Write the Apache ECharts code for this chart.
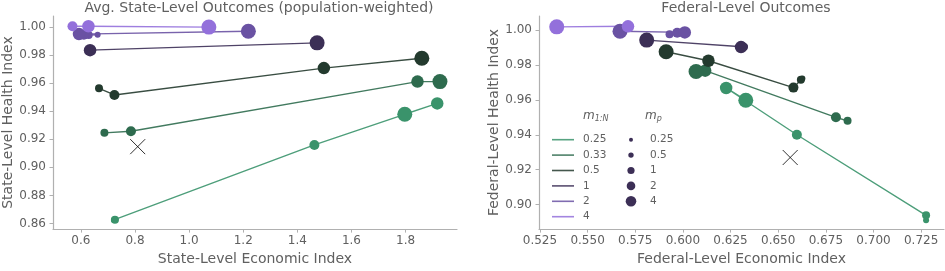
<!DOCTYPE html>
<html><head><meta charset="utf-8">
<script src="https://cdn.jsdelivr.net/npm/echarts@6/dist/echarts.min.js"></script>
<style>html,body{margin:0;padding:0;background:#fff}#c{width:945px;height:271px}</style>
</head><body><div id="c"></div>
<script>
// ---- data ----
const m1NLabels = ['0.25', '0.33', '0.5', '1', '2', '4'];
const mpValues = [0.25, 0.5, 1, 2, 4];
// State-level (left panel), rows = m_1:N, columns = m_p order [0.25,0.5,1,2,4]
const stateEcon = [
  [0.722, 0.726, 1.463, 1.917, 1.797],
  [0.687, 0.687, 0.785, 1.844, 1.927],
  [0.667, 0.667, 0.724, 1.498, 1.860],
  [0.634, 0.634, 0.634, 0.634, 1.473],
  [0.662, 0.629, 0.611, 0.593, 1.219],
  [0.569, 0.569, 0.569, 0.628, 1.073]
];
const stateHealth = [
  [0.8625, 0.8627, 0.9159, 0.9455, 0.9378],
  [0.9245, 0.9245, 0.9257, 0.9610, 0.9610],
  [0.9562, 0.9562, 0.9515, 0.9706, 0.9776],
  [0.9834, 0.9834, 0.9834, 0.9834, 0.9886],
  [0.9943, 0.9942, 0.9944, 0.9948, 0.9968],
  [1.0004, 1.0004, 1.0004, 1.0004, 0.9998]
];
// Federal-level (right panel)
const fedEcon = [
  [0.7276, 0.7276, 0.6598, 0.6227, 0.6330],
  [0.6866, 0.6864, 0.6803, 0.6117, 0.6069],
  [0.6627, 0.6619, 0.6580, 0.6134, 0.5912],
  [0.6325, 0.6320, 0.6310, 0.6305, 0.5810],
  [0.5930, 0.5930, 0.5970, 0.6010, 0.5670],
  [0.5712, 0.5712, 0.5712, 0.5712, 0.5338]
];
const fedHealth = [
  [0.8911, 0.8939, 0.9400, 0.9668, 0.9598],
  [0.9479, 0.9481, 0.9500, 0.9767, 0.9762],
  [0.9722, 0.9715, 0.9670, 0.9824, 0.9875],
  [0.9906, 0.9902, 0.9904, 0.9902, 0.9942],
  [0.9975, 0.9975, 0.9984, 0.9986, 0.9993],
  [1.0021, 1.0021, 1.0021, 1.0021, 1.0018]
];
const stateBaseline = [0.810, 0.9147];
const fedBaseline = [0.6563, 0.9270];
const stateXTicks = [0.6, 0.8, 1.0, 1.2, 1.4, 1.6, 1.8];
const stateYTicks = [0.86, 0.88, 0.90, 0.92, 0.94, 0.96, 0.98, 1.00];
const fedXTicks = [0.525, 0.55, 0.575, 0.6, 0.625, 0.65, 0.675, 0.7, 0.725];
const fedYTicks = [0.90, 0.92, 0.94, 0.96, 0.98, 1.00];

// ---- style ----
const colors = ['#3a936b', '#2e6b4e', '#233a2e', '#3c2f56', '#6a52a3', '#9370db'];
const sizeMap = {0.25: 6, 0.5: 8, 1: 10, 2: 12.5, 4: 15};
const FONT = 'DejaVu Sans';
const TXT = '#606060';
const AX = '#b0b0b0';

function axisX(grid, min, max, ticks, dec, name) {
  return {
    type: 'value', gridIndex: grid, min: min, max: max,
    name: name, nameLocation: 'middle', nameGap: 21,
    nameTextStyle: {fontFamily: FONT, fontSize: 14, color: TXT},
    axisLine: {show: true, lineStyle: {color: AX, width: 1.2}},
    axisTick: {show: true, length: 3.5, lineStyle: {color: AX}, customValues: ticks},
    axisLabel: {customValues: ticks, fontFamily: FONT, fontSize: 12, color: TXT, margin: 6,
      formatter: v => v.toFixed(dec)},
    splitLine: {show: false}
  };
}
function axisY(grid, min, max, ticks, name, gap) {
  return {
    type: 'value', gridIndex: grid, min: min, max: max,
    name: name, nameLocation: 'middle', nameGap: gap, nameRotate: 90,
    nameTextStyle: {fontFamily: FONT, fontSize: 14, color: TXT},
    axisLine: {show: true, lineStyle: {color: AX, width: 1.2}},
    axisTick: {show: true, length: 3.5, lineStyle: {color: AX}, customValues: ticks},
    axisLabel: {customValues: ticks, fontFamily: FONT, fontSize: 12, color: TXT, margin: 7,
      formatter: v => v.toFixed(2)},
    splitLine: {show: false}
  };
}

const series = [];
function addPanel(econ, health, base, gi) {
  econ.forEach((row, i) => {
    const data = row.map((x, j) => [x, health[i][j], mpValues[j]]);
    series.push({
      type: 'line', name: m1NLabels[i], xAxisIndex: gi, yAxisIndex: gi,
      data: data, symbol: 'circle', showSymbol: true,
      symbolSize: v => sizeMap[v[2]],
      itemStyle: {color: colors[i], opacity: 1},
      lineStyle: {color: colors[i], width: 1.4, opacity: 0.9},
      emphasis: {disabled: true}, animation: false, silent: true
    });
  });
  series.push({
    type: 'scatter', xAxisIndex: gi, yAxisIndex: gi, data: [base],
    symbol: 'path://M0,0L10,10M10,0L0,10', symbolSize: 15,
    itemStyle: {color: 'none', borderColor: '#000', borderWidth: 1},
    animation: false, silent: true, z: 5
  });
}
addPanel(stateEcon, stateHealth, stateBaseline, 0);
addPanel(fedEcon, fedHealth, fedBaseline, 1);

// legend as graphics
const graphics = [];
const legX = 552, legY0 = 139.7, legDy = 15.4;
const hdrRich = {a: {fontFamily: FONT, fontStyle: 'italic', fontSize: 12, fill: TXT},
  b: {fontFamily: FONT, fontStyle: 'italic', fontSize: 8, fill: TXT, padding: [6, 0, 0, 0]}};
graphics.push({type: 'text', left: 583, top: 110, style: {text: '{a|m}{b|1:N}', rich: hdrRich}});
graphics.push({type: 'text', left: 645, top: 110, style: {text: '{a|m}{b|p}', rich: hdrRich}});
m1NLabels.forEach((lab, i) => {
  const y = legY0 + i * legDy;
  graphics.push({type: 'line', shape: {x1: legX, y1: y, x2: legX + 22, y2: y},
    style: {stroke: colors[i], lineWidth: 1.6, opacity: 0.85}});
  graphics.push({type: 'text', x: 583, y: y, style: {text: lab, fontFamily: FONT, fontSize: 10.5,
    fill: TXT, verticalAlign: 'middle', textVerticalAlign: 'middle'}});
});
const legR = {0.25: 2, 0.5: 2.7, 1: 3.6, 2: 4.3, 4: 5.3};
mpValues.forEach((mp, i) => {
  const y = legY0 + i * legDy;
  graphics.push({type: 'circle', shape: {cx: 631, cy: y, r: legR[mp]}, style: {fill: '#3c2f56'}});
  graphics.push({type: 'text', x: 650, y: y, style: {text: String(mp), fontFamily: FONT, fontSize: 10.5,
    fill: TXT, verticalAlign: 'middle', textVerticalAlign: 'middle'}});
});

const option = {
  animation: false,
  backgroundColor: '#fff',
  title: [
    {text: 'Avg. State-Level Outcomes (population-weighted)', left: 254, top: -4, textAlign: 'center',
      textStyle: {fontFamily: FONT, fontSize: 14, fontWeight: 'normal', color: TXT}},
    {text: 'Federal-Level Outcomes', left: 741, top: -4, textAlign: 'center',
      textStyle: {fontFamily: FONT, fontSize: 14, fontWeight: 'normal', color: TXT}}
  ],
  grid: [
    {left: 51, top: 16, width: 406, height: 217},
    {left: 539, top: 16, width: 405, height: 217}
  ],
  xAxis: [
    axisX(0, 0.497, 1.99, stateXTicks, 1, 'State-Level Economic Index'),
    axisX(1, 0.5245, 0.737, fedXTicks, 3, 'Federal-Level Economic Index')
  ],
  yAxis: [
    axisY(0, 0.856, 1.0077, stateYTicks, 'State-Level Health Index', 38),
    axisY(1, 0.886, 1.008, fedYTicks, 'Federal-Level Health Index', 37)
  ],
  series: series,
  graphic: graphics
};
const chart = echarts.init(document.getElementById('c'), null, {renderer: 'canvas'});
chart.setOption(option);
</script></body></html>
